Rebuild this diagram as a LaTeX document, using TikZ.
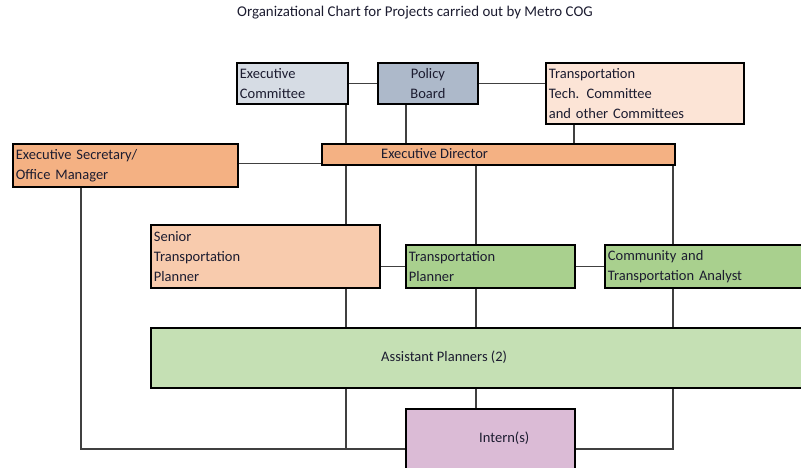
\documentclass[tikz,border=0pt]{standalone}
\usepackage{fontspec}
\setmainfont{Carlito}
\usetikzlibrary{backgrounds}

\definecolor{ecblue}{HTML}{D6DCE4}
\definecolor{pbblue}{HTML}{ADB9CA}
\definecolor{ttcpeach}{HTML}{FCE4D6}
\definecolor{edorange}{HTML}{F4B183}
\definecolor{senpeach}{HTML}{F8CBAD}
\definecolor{tpgreen}{HTML}{A9D08E}
\definecolor{apgreen}{HTML}{C5E0B4}
\definecolor{inpurple}{HTML}{DBBBD6}
\definecolor{inktext}{HTML}{1C1C30}

\tikzset{
  orgbox/.style={draw=black, line width=1.8pt, anchor=north west, align=left,
    inner xsep=3pt, inner ysep=0pt, text=inktext, font=\fontsize{14.5}{20}\selectfont},
  boxtext/.style={anchor=west, inner sep=0pt, text=inktext, font=\fontsize{14.5}{20}\selectfont},
  link/.style={draw=black!75, line width=1.2pt},
}

\begin{document}
\begin{tikzpicture}[x=1pt,y=-1pt]
    % Cadre
    \clip (0,0) rectangle (801,468);

    % Titre
    \node[text=inktext, font=\fontsize{14.9}{18}\selectfont] (title) at (415,13) {Organizational Chart for Projects carried out by Metro COG};

    % Comites
    \node[orgbox, fill=ecblue, minimum width=111, minimum height=41, text width=105] (ec) at (236,62) {Executive\\Committee};
    \node[orgbox, fill=pbblue, minimum width=100, minimum height=41, text width=94, align=center] (pb) at (377,62) {Policy\\Board};
    \node[orgbox, fill=ttcpeach, minimum width=198, minimum height=61, text width=192] (ttc) at (545,62) {Transportation\\Tech. Committee\\and other Committees};

    % Direction
    \node[orgbox, fill=edorange, minimum width=225, minimum height=43, text width=219] (es) at (12,143) {Executive Secretary/\\Office Manager};
    \node[orgbox, fill=edorange, minimum width=353, minimum height=21, text width=347] (ed) at (321,143) {};
    \node[boxtext] (edtext) at (381,153.5) {Executive Director};

    % Planificateurs
    \node[orgbox, fill=senpeach, minimum width=229, minimum height=63, text width=223] (sen) at (150,224) {Senior\\Transportation\\Planner};
    \node[orgbox, fill=tpgreen, minimum width=169, minimum height=43, text width=163] (tp) at (405,244) {Transportation\\Planner};
    \node[orgbox, fill=tpgreen, minimum width=230, minimum height=43, text width=224] (cta) at (604,244) {Community and\\Transportation Analyst};
    \node[orgbox, fill=apgreen, minimum width=700, minimum height=60, text width=694] (ap) at (150,327) {};
    \node[boxtext] (aptext) at (381,357) {Assistant Planners (2)};
    \node[orgbox, fill=inpurple, minimum width=169, minimum height=80, text width=163] (in) at (405,408) {};
    \node[boxtext] (intext) at (479,438) {Intern(s)};

    % Colonnes des liaisons
    \coordinate (colsec) at (81,0);
    \coordinate (colec) at (346,0);
    \coordinate (colpb) at (406,0);
    \coordinate (coltp) at (476,0);
    \coordinate (colttc) at (574,0);
    \coordinate (colcta) at (673,0);

    % Liaisons
    \begin{pgfonlayer}{background}
        \draw[link] (ec.east) -- (pb.west);
        \draw[link] (pb.east) -- (pb.east -| ttc.west);
        \draw[link] (ec.south -| colec) -- (ed.north -| colec);
        \draw[link] (pb.south -| colpb) -- (ed.north -| colpb);
        \draw[link] (ttc.south -| colttc) -- (ed.north -| colttc);
        \draw[link] ([yshift=1.5pt]es.east) -- ([yshift=1.5pt]es.east -| ed.west);
        \draw[link] (ed.south -| colec) -- (sen.north -| colec);
        \draw[link] (ed.south -| coltp) -- (tp.north -| coltp);
        \draw[link] (ed.south -| colcta) -- (cta.north -| colcta);
        \draw[link] (tp.west -| sen.east) -- (tp.west);
        \draw[link] (tp.east) -- (cta.west |- tp.east);
        \draw[link] (sen.south -| colec) -- (ap.north -| colec);
        \draw[link] (tp.south -| coltp) -- (ap.north -| coltp);
        \draw[link] (cta.south -| colcta) -- (ap.north -| colcta);
        \draw[link] (ap.south -| colec) -- (colec |- in.west);
        \draw[link] (ap.south -| coltp) -- (in.north -| coltp);
        \draw[link] (ap.south -| colcta) |- (in.east);
        \draw[link] (es.south -| colsec) |- (in.west);
    \end{pgfonlayer}

\end{tikzpicture}
\end{document}
